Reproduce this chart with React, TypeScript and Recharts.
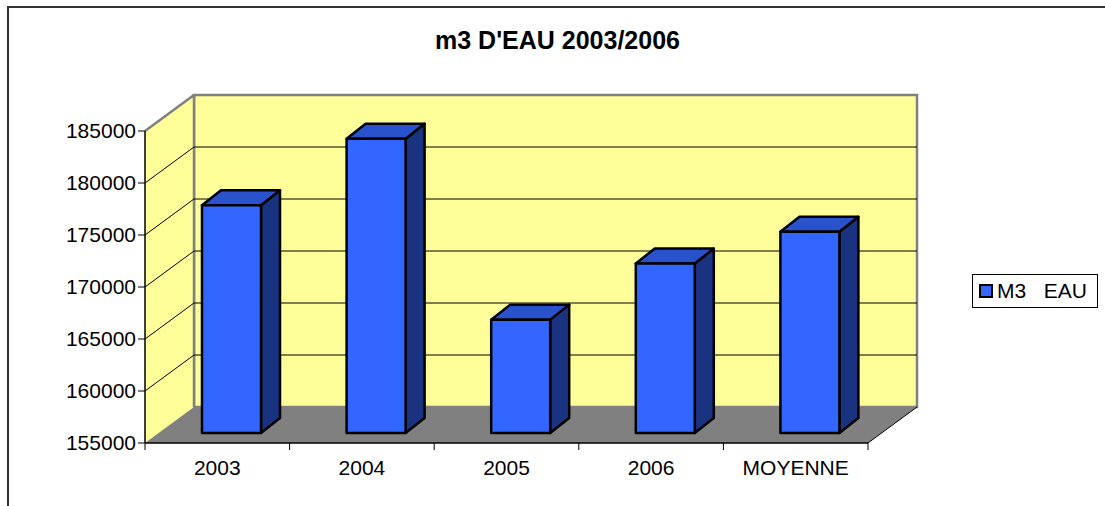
import React from 'react';
import { BarChart, Bar, XAxis, YAxis, ReferenceArea, ReferenceLine, Legend } from 'recharts';

const categories = ['2003', '2004', '2005', '2006', 'MOYENNE'];
const m3Eau = [176900, 183300, 165900, 171300, 174350];
const yTicks = [155000, 160000, 165000, 170000, 175000, 180000, 185000];
const seriesName = 'M3   EAU';
const title = "m3 D'EAU 2003/2006";

const FONT = '"Liberation Sans", Arial, sans-serif';

// oblique depth of the box (floor and walls)
const DEPTH_X = 49;
const DEPTH_Y = -36;
// bars stand a little behind the front plane
const BAR_X = 14;
const BAR_Y = -10;
const BAR_DX = 19;
const BAR_DY = -15;

const X_TICK_SIZE = 7;
const X_TICK_MARGIN = 10;

const data = categories.map((name, i) => ({ name, value: m3Eau[i] }));

// back wall, side wall and floor, built from the reference area rect
const Walls = (props: any) => {
  const { x, y, width, height } = props;
  const bottom = y + height;
  const right = x + width;
  return (
    <g>
      <rect x={x + DEPTH_X} y={y + DEPTH_Y} width={width} height={height}
        fill="#FFFF99" stroke="#808080" strokeWidth={2.5} />
      <polygon
        points={`${x},${y} ${x + DEPTH_X},${y + DEPTH_Y} ${x + DEPTH_X},${bottom + DEPTH_Y} ${x},${bottom}`}
        fill="#FFFF99" />
      <line x1={x} y1={y} x2={x + DEPTH_X} y2={y + DEPTH_Y} stroke="#808080" strokeWidth={2.5} />
      <line x1={x + DEPTH_X} y1={y + DEPTH_Y} x2={x + DEPTH_X} y2={bottom + DEPTH_Y} stroke="#808080" strokeWidth={2.5} />
      <polygon
        points={`${x},${bottom} ${right},${bottom} ${right + DEPTH_X},${bottom + DEPTH_Y} ${x + DEPTH_X},${bottom + DEPTH_Y}`}
        fill="#808080" />
      <line x1={right} y1={bottom} x2={right + DEPTH_X} y2={bottom + DEPTH_Y} stroke="#000" strokeWidth={1} />
    </g>
  );
};

const WallGrid = (props: any) => {
  const { x1, y1, x2 } = props;
  return (
    <g>
      <line x1={x1} y1={y1} x2={x1 + DEPTH_X} y2={y1 + DEPTH_Y} stroke="#000" strokeWidth={1} />
      <line x1={x1 + DEPTH_X} y1={y1 + DEPTH_Y} x2={x2 + DEPTH_X} y2={y1 + DEPTH_Y} stroke="#000" strokeWidth={1} />
    </g>
  );
};

const Bar3D = (props: any) => {
  const { x, y, width, height } = props;
  if (!height) return null;
  const fx = x + BAR_X;
  const fy = y + BAR_Y;
  const r = fx + width;
  const b = fy + height;
  return (
    <g stroke="#000" strokeWidth={2.5} strokeLinejoin="round">
      <polygon points={`${r},${fy} ${r + BAR_DX},${fy + BAR_DY} ${r + BAR_DX},${b + BAR_DY} ${r},${b}`} fill="#1A3380" />
      <polygon points={`${fx},${fy} ${r},${fy} ${r + BAR_DX},${fy + BAR_DY} ${fx + BAR_DX},${fy + BAR_DY}`} fill="#2952CC" />
      <rect x={fx} y={fy} width={width} height={height} fill="#3366FF" />
    </g>
  );
};

const XTick = (props: any) => {
  const { x, y, payload, index, visibleTicksCount } = props;
  const half = payload && payload.offset ? payload.offset : 72.3;
  const axisY = y - X_TICK_SIZE - X_TICK_MARGIN;
  return (
    <g>
      <line x1={x - half} y1={axisY} x2={x - half} y2={axisY + X_TICK_SIZE} stroke="#000" />
      {index === visibleTicksCount - 1 && (
        <line x1={x + half} y1={axisY} x2={x + half} y2={axisY + X_TICK_SIZE} stroke="#000" />
      )}
      <text x={x} y={y} dy="0.71em" textAnchor="middle" fontSize={21} fill="#000" fontFamily={FONT}>
        {payload.value}
      </text>
    </g>
  );
};

const LegendBox = () => (
  <div style={{
    display: 'flex', alignItems: 'center', border: '1px solid #000', background: '#fff',
    width: 124, height: 32, boxSizing: 'content-box', fontFamily: FONT, fontSize: 21, color: '#000',
  }}>
    <span style={{
      display: 'inline-block', width: 10, height: 10, border: '2px solid #000',
      background: '#3366FF', marginLeft: 6, marginRight: 4,
    }} />
    <span style={{ whiteSpace: 'pre' }}>{seriesName}</span>
  </div>
);

export default function App() {
  return (
    <div style={{ position: 'absolute', left: 0, top: 0, width: 1105, height: 506, overflow: 'hidden', background: '#fff' }}>
      <div style={{
        position: 'absolute', left: 7, top: 6, width: 1200, height: 600,
        borderTop: '2px solid #333', borderLeft: '2px solid #333',
      }} />
      <div style={{
        position: 'absolute', left: 0, top: 28, width: 1115, textAlign: 'center',
        fontFamily: FONT, fontWeight: 'bold', fontSize: 25, lineHeight: '25px', color: '#000',
      }}>
        {title}
      </div>
      <div style={{ position: 'absolute', left: 0, top: 0 }}>
        <BarChart width={1105} height={506} data={data}
          margin={{ top: 131, right: 237, bottom: 0, left: 0 }}>
          <ReferenceArea y1={yTicks[0]} y2={yTicks[yTicks.length - 1]} ifOverflow="visible"
            shape={Walls} zIndex={-90} />
          {yTicks.slice(1, -1).map((v) => (
            <ReferenceLine key={v} y={v} ifOverflow="visible" shape={WallGrid} zIndex={-80} />
          ))}
          <XAxis dataKey="name" height={63} tickLine={false} tick={XTick}
            axisLine={{ stroke: '#000', strokeWidth: 1.5 }}
            tickSize={X_TICK_SIZE} tickMargin={X_TICK_MARGIN} interval={0} />
          <YAxis width={145} domain={[yTicks[0], yTicks[yTicks.length - 1]]} ticks={yTicks}
            tickSize={7} tickMargin={2}
            axisLine={{ stroke: '#000', strokeWidth: 1.5 }} tickLine={{ stroke: '#000' }}
            tick={{ fill: '#000', fontSize: 21, fontFamily: FONT }} />
          <Legend verticalAlign="middle" align="center" layout="horizontal"
            wrapperStyle={{ left: 972, top: 274, width: 'auto' }} content={LegendBox} />
          <Bar dataKey="value" name={seriesName} fill="#3366FF" barSize={59}
            shape={Bar3D} isAnimationActive={false} />
        </BarChart>
      </div>
    </div>
  );
}
